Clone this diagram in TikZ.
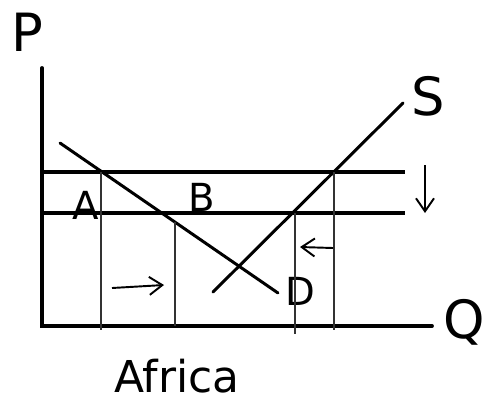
\documentclass[tikz,border=0pt]{standalone}
\usepackage{fontspec}
\setsansfont{DejaVu Sans}
\usepackage{tikz}
\usetikzlibrary{arrows.meta,positioning,calc}

\begin{document}
\begin{tikzpicture}[
  x=0.02cm, y=-0.02cm,
  axis/.style   = {line width=2.2pt, line cap=round},
  curve/.style  = {line width=1.7pt, line cap=round},
  price/.style  = {line width=1.9pt},
  guide/.style  = {line width=0.6pt, black!80},
  move/.style   = {-{Straight Barb[length=2.6mm,width=3.6mm]}, line width=1.1pt},
  big/.style    = {font=\sffamily\fontsize{30}{30}\selectfont, inner sep=0pt},
  mid/.style    = {font=\sffamily\fontsize{22}{22}\selectfont, inner sep=0pt}
]
  \useasboundingbox (0,0) rectangle (492,413);

  % axes
  \coordinate (o)  at (42,326);
  \coordinate (py) at (42,68);
  \coordinate (qx) at (432,326);
  \draw[axis] (py) -- (o) -- (qx);
  \node[big] (lp) at (27,32)  {P};
  \node[big] (lq) at (464,322) {Q};

  % world price lines
  \coordinate (u1) at (42,172);  \coordinate (u2) at (405,172);
  \coordinate (w1) at (42,213);  \coordinate (w2) at (405,213);
  \draw[price] (u1) -- (u2);
  \draw[price] (w1) -- (w2);

  % demand and supply
  \coordinate (d1) at (60,143);  \coordinate (d2) at (278,293);
  \coordinate (s1) at (213,292); \coordinate (s2) at (403,103);
  \draw[curve] (d1) -- (d2);
  \draw[curve] (s1) -- (s2);
  \node[mid] (ld) at (300,291) {D};
  \node[big] (ls) at (428,96)  {S};

  % quantities
  \foreach \x/\t/\b in {101/172/330, 175/222/326, 295/213/334, 334/172/330}
    \draw[guide] (\x,\t) -- (\x,\b);

  % areas
  \node[mid] (la) at (86,205) {A};
  \node[mid] (lb) at (202,197) {B};

  % shifts
  \coordinate (r1) at (112,288); \coordinate (r2) at (164,285);
  \coordinate (l1) at (333,248); \coordinate (l2) at (300,247);
  \coordinate (v1) at (425,165); \coordinate (v2) at (425,213);
  \draw[move] (r1) -- (r2);
  \draw[move] (l1) -- (l2);
  \draw[move] (v1) -- (v2);

  \node[font=\sffamily\fontsize{25}{25}\selectfont, inner sep=0pt] (lafr) at (177,376) {Africa};
\end{tikzpicture}
\end{document}
